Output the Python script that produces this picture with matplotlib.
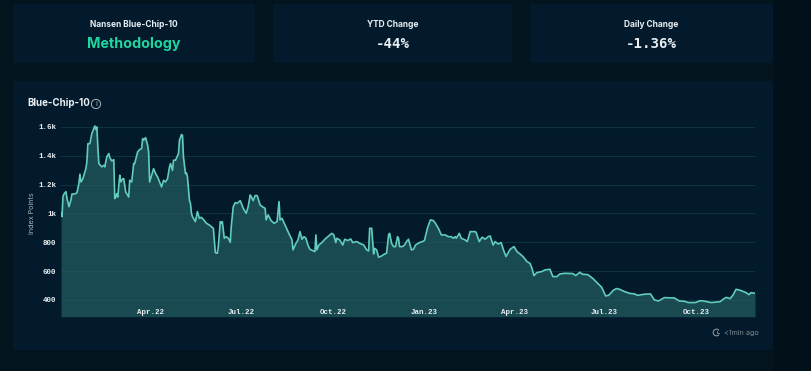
import pandas as pd
import matplotlib
matplotlib.use("Agg")
import matplotlib.pyplot as plt
from matplotlib.patches import Arc, Circle, FancyBboxPatch

# days since the first point, index value
start_date = "2022-01-01"
days = [
    0, 1, 2, 3, 5, 6, 8, 10, 11, 14, 16, 18, 19, 20, 22, 25, 26, 27, 29, 31, 32, 34, 35, 36, 37, 38,
    41, 43, 44, 46, 48, 49, 51, 53, 54, 55, 56, 57, 59, 60, 62, 63, 65, 68, 69, 71, 73, 74, 77, 79,
    81, 82, 83, 85, 87, 88, 89, 91, 93, 95, 97, 99, 101, 103, 105, 107, 109, 110, 112, 113, 115, 118,
    119, 121, 122, 123, 125, 126, 127, 129, 130, 131, 132, 135, 137, 139, 141, 144, 146, 149, 153,
    155, 157, 158, 160, 161, 162, 164, 166, 168, 170, 171, 173, 175, 177, 180, 183, 186, 188, 190,
    191, 193, 195, 197, 200, 203, 205, 206, 208, 211, 214, 217, 219, 220, 222, 225, 228, 232, 233,
    236, 238, 240, 242, 244, 246, 248, 250, 253, 255, 256, 257, 259, 262, 265, 268, 272, 274, 276,
    277, 280, 283, 285, 288, 291, 293, 297, 300, 304, 307, 309, 310, 312, 314, 315, 317, 319, 322,
    325, 327, 329, 330, 332, 334, 336, 338, 339, 340, 343, 345, 347, 349, 352, 354, 356, 360, 363,
    365, 368, 371, 374, 376, 379, 382, 386, 389, 392, 394, 396, 397, 400, 402, 406, 408, 411, 416,
    417, 420, 423, 426, 429, 431, 434, 436, 439, 442, 445, 447, 451, 455, 458, 461, 464, 468, 471,
    473, 475, 478, 483, 486, 491, 494, 498, 501, 506, 514, 517, 521, 524, 529, 534, 539, 543, 547,
    550, 555, 558, 561, 566, 571, 576, 579, 585, 592, 596, 600, 606, 616, 621, 626, 630, 637, 642,
    647, 653, 662, 665, 668, 672, 675, 678, 683, 688, 691, 693, 697,
]
index_points = [
    1001, 978, 1117, 1135, 1151, 1105, 1047, 1094, 1135, 1135, 1144, 1207, 1272, 1218, 1241, 1311,
    1357, 1484, 1484, 1554, 1572, 1607, 1582, 1600, 1461, 1346, 1323, 1334, 1323, 1392, 1415, 1387,
    1364, 1373, 1103, 1114, 1137, 1114, 1265, 1218, 1241, 1241, 1149, 1114, 1230, 1218, 1346, 1346,
    1427, 1443, 1450, 1519, 1508, 1526, 1473, 1427, 1218, 1265, 1311, 1276, 1253, 1218, 1184, 1230,
    1218, 1241, 1323, 1346, 1299, 1369, 1369, 1415, 1508, 1547, 1542, 1392, 1276, 1281, 1253, 1091,
    1070, 1001, 978, 943, 1013, 966, 973, 950, 932, 920, 897, 728, 724, 770, 943, 932, 943, 828, 839,
    828, 800, 909, 1047, 1075, 1070, 1089, 1036, 1001, 1047, 1128, 1117, 1089, 1124, 1124, 1059, 1043,
    1036, 955, 990, 950, 932, 943, 1082, 955, 966, 920, 874, 816, 747, 793, 816, 874, 821, 839, 828,
    781, 751, 742, 735, 851, 747, 781, 798, 821, 839, 862, 851, 798, 828, 816, 781, 821, 812, 823,
    798, 805, 793, 781, 747, 740, 897, 897, 719, 758, 747, 696, 705, 719, 724, 851, 862, 793, 770,
    770, 839, 828, 770, 770, 781, 805, 821, 747, 751, 781, 798, 805, 812, 897, 955, 950, 932, 897,
    851, 851, 839, 839, 828, 839, 828, 862, 828, 816, 805, 874, 874, 867, 805, 835, 821, 839, 844,
    781, 805, 788, 798, 735, 701, 751, 770, 735, 719, 701, 666, 654, 620, 569, 590, 597, 608, 613,
    562, 562, 580, 585, 583, 569, 592, 578, 576, 550, 516, 488, 428, 432, 469, 479, 474, 458, 446,
    442, 432, 439, 442, 400, 393, 416, 414, 393, 391, 382, 382, 395, 391, 382, 388, 405, 418, 409,
    435, 474, 465, 451, 437, 451, 446,
]

y_ticks = [400, 600, 800, 1000, 1200, 1400, 1600]
y_labels = ["400", "600", "800", "1k", "1.2k", "1.4k", "1.6k"]
x_tick_dates = ["2022-04-01", "2022-07-01", "2022-10-01", "2023-01-01", "2023-04-01", "2023-07-01", "2023-10-01"]
x_labels = ["Apr.22", "Jul.22", "Oct.22", "Jan.23", "Apr.23", "Jul.23", "Oct.23"]

card_titles = ["Nansen Blue-Chip-10", "YTD Change", "Daily Change"]
card_values = ["Methodology", "-44%", "-1.36%"]

BG = "#03141f"
PANEL = "#021a2b"
WHITE = "#e8eef2"
SANS = ["Inter", "DejaVu Sans"]
MONO = ["DejaVu Sans Mono"]
TICK_MONO = ["Liberation Mono", "DejaVu Sans Mono"]

W, H = 811, 371
fig = plt.figure(figsize=(W / 100, H / 100), dpi=100, facecolor=BG)

# page layer in pixel coordinates
page = fig.add_axes([0, 0, 1, 1])
page.set_xlim(0, W)
page.set_ylim(H, 0)
page.axis("off")
page.axvspan(773, W, color="#02101a", lw=0)


def panel(x0, y0, x1, y1):
    page.add_patch(FancyBboxPatch((x0 + 2, y0 + 2), x1 - x0 - 4, y1 - y0 - 4,
                                  boxstyle="round,pad=2,rounding_size=2", fc=PANEL, ec="none"))


card_x = [(13, 255), (273, 512), (530, 773)]
for (x0, x1), title, value in zip(card_x, card_titles, card_values):
    panel(x0, 4, x1, 63)
    cx = (x0 + x1) / 2
    page.text(cx, 24.3, title, color=WHITE, fontsize=6.05, fontweight="bold",
              family=SANS, ha="center", va="center")
    if value == "Methodology":
        page.text(cx - 0.5, 44, value, color="#1fd6a0", fontsize=10.3, fontweight="bold",
                  family=SANS, ha="center", va="center")
    else:
        page.text(cx, 44.5, value, color=WHITE, fontsize=10.2, fontweight="bold",
                  family=MONO, ha="center", va="center")

panel(13, 81, 773, 350)
page.text(27, 103.5, "Blue-Chip-10", color=WHITE, fontsize=7.0, fontweight="bold",
          family=SANS, ha="left", va="center")
page.add_patch(Circle((96, 104), 4.6, fc="none", ec="#a9b4bb", lw=0.7))
page.text(96, 104, "i", color="#a9b4bb", fontsize=5.5, family=SANS, ha="center", va="center")
page.text(32, 213, "Index Points", color="#a9b4bb", fontsize=5.2, family=SANS,
          rotation=90, ha="center", va="center")

# refresh icon and age
page.add_patch(Arc((716.5, 332.5), 6.6, 6.6, theta1=40, theta2=320, ec="#8b969d", lw=0.8))
page.plot([716.5, 716.5, 719], [330.5, 332.8, 332.8], color="#8b969d", lw=0.6)
page.text(724, 332.5, "<1min ago", color="#7f8b93", fontsize=5.2, family=SANS, ha="left", va="center")

# chart
left, right, top, bottom = 61, 755, 120, 316.7
ax = fig.add_axes([left / W, 1 - bottom / H, (right - left) / W, (bottom - top) / H])
ax.patch.set_alpha(0)

dates = pd.to_datetime(start_date) + pd.to_timedelta(days, unit="D")
y_min = 284
ax.fill_between(dates, index_points, y_min, color="#194a52", lw=0, zorder=1)
ax.plot(dates, index_points, color="#62cdbd", lw=1.2, zorder=3)

ax.set_xlim(dates[0], dates[-1])
ax.set_ylim(y_min, 1648)
ax.set_yticks(y_ticks)
ax.set_yticklabels(y_labels)
ax.set_xticks(pd.to_datetime(x_tick_dates))
ax.set_xticklabels(x_labels)
ax.tick_params(axis="y", length=0, pad=3.5, labelsize=5.4, labelcolor=WHITE)
ax.tick_params(axis="x", length=0, pad=-5.6, labelsize=5.4, labelcolor=WHITE)
for label in ax.get_xticklabels() + ax.get_yticklabels():
    label.set_family(TICK_MONO)
    label.set_fontweight("bold")

ax.grid(axis="y", color="#2c5d68", alpha=0.35, lw=0.8)
ax.set_axisbelow(False)
for spine in ax.spines.values():
    spine.set_visible(False)

fig.savefig("out.png", dpi=100, facecolor=BG)
